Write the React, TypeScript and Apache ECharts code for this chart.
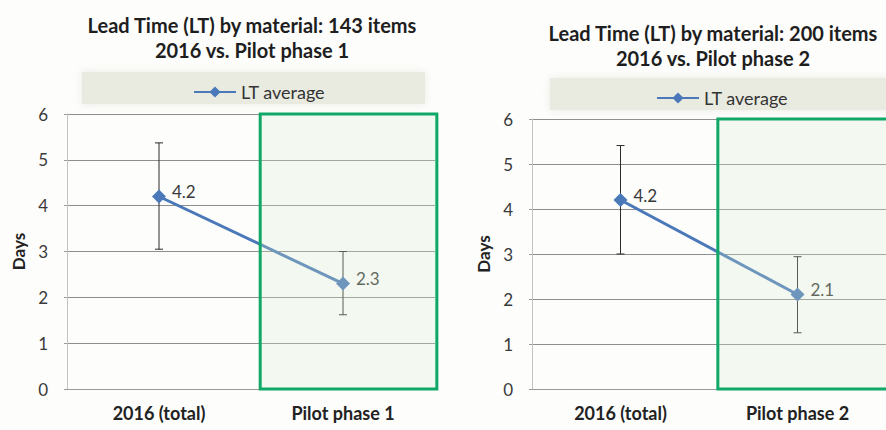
import React, { useEffect, useRef } from "react";
import * as echarts from "echarts";

const categoriesA = ["2016 (total)", "Pilot phase 1"];
const categoriesB = ["2016 (total)", "Pilot phase 2"];
const ltAverageA = [4.2, 2.3];
const ltAverageB = [4.2, 2.1];
const errLowA = [3.05, 1.62];
const errHighA = [5.37, 3.0];
const errLowB = [3.0, 1.25];
const errHighB = [5.41, 2.94];
const titleA = ["Lead Time (LT) by material: 143 items", "2016 vs. Pilot phase 1"];
const titleB = ["Lead Time (LT) by material: 200 items", "2016 vs. Pilot phase 2"];
const seriesName = "LT average";
const highlightIndex = 1;
const yMin = 0;
const yMax = 6;
const yInterval = 1;

const FONT = "Lato, 'Open Sans', sans-serif";
const BLUE = "#4a78b8";
const GREEN = "#0fa866";

function errorBarSeries(gridIdx: number, low: number[], high: number[]) {
  return {
    type: "custom",
    xAxisIndex: gridIdx,
    yAxisIndex: gridIdx,
    z: 3,
    silent: true,
    data: low.map((l, i) => [i, l, high[i]]),
    renderItem: (params: any, api: any) => {
      const x = api.value(0);
      const lo = api.coord([x, api.value(1)]);
      const hi = api.coord([x, api.value(2)]);
      const cap = 4;
      const style = { stroke: "#2a2a2a", lineWidth: 1 };
      return {
        type: "group",
        children: [
          { type: "line", shape: { x1: lo[0], y1: lo[1], x2: hi[0], y2: hi[1] }, style },
          { type: "line", shape: { x1: lo[0] - cap, y1: lo[1], x2: lo[0] + cap, y2: lo[1] }, style },
          { type: "line", shape: { x1: hi[0] - cap, y1: hi[1], x2: hi[0] + cap, y2: hi[1] }, style },
        ],
      };
    },
  };
}

function highlightSeries(gridIdx: number) {
  return {
    type: "custom",
    xAxisIndex: gridIdx,
    yAxisIndex: gridIdx,
    z: 6,
    silent: true,
    clip: false,
    data: [[highlightIndex]],
    renderItem: (params: any, api: any) => {
      const top = api.coord([api.value(0), yMax]);
      const bottom = api.coord([api.value(0), yMin]);
      const bw = api.size([1, 0])[0];
      const x = top[0] - bw * 0.45;
      return {
        type: "rect",
        shape: { x, y: top[1], width: bw * 0.96, height: bottom[1] - top[1] },
        style: { fill: "rgba(218,236,204,0.26)", stroke: GREEN, lineWidth: 3 },
      };
    },
  };
}

function lineSeries(gridIdx: number, data: number[]) {
  return {
    name: seriesName,
    type: "line",
    xAxisIndex: gridIdx,
    yAxisIndex: gridIdx,
    z: 4,
    data,
    symbol: "diamond",
    symbolSize: 14,
    itemStyle: { color: BLUE },
    lineStyle: { color: BLUE, width: 3 },
    label: {
      show: true,
      position: "right",
      offset: [1, -5],
      color: "#3a3a3a",
      fontSize: 17,
      fontFamily: FONT,
    },
  };
}

function xAxis(gridIdx: number, cats: string[]) {
  return {
    type: "category",
    gridIndex: gridIdx,
    data: cats,
    boundaryGap: true,
    axisLine: { lineStyle: { color: "#9a9a9a" } },
    axisTick: { show: false },
    axisLabel: { color: "#222", fontSize: 18, fontWeight: "bold", fontFamily: FONT, margin: 15 },
  };
}

function yAxis(gridIdx: number) {
  return {
    type: "value",
    gridIndex: gridIdx,
    min: yMin,
    max: yMax,
    interval: yInterval,
    name: "Days",
    nameLocation: "middle",
    nameGap: 40,
    nameTextStyle: { color: "#222", fontSize: 17, fontWeight: "bold", fontFamily: FONT },
    axisLine: { show: true, lineStyle: { color: "#c4c4c4" } },
    axisTick: { show: true, length: 3, lineStyle: { color: "#9a9a9a" } },
    axisLabel: { color: "#3a3a3a", fontSize: 17, fontFamily: FONT, margin: 19 },
    splitLine: { lineStyle: { color: "#8e8e8e", width: 1 } },
  };
}

function titleTexts(cx: number, y: number, lines: string[]) {
  return lines.map((t, i) => ({
    type: "text",
    x: cx,
    y: y + i * 25,
    style: {
      text: t,
      textAlign: "center",
      textVerticalAlign: "middle",
      fill: "#1e1e1e",
      font: `bold 20px ${FONT}`,
    },
  }));
}

export default function App() {
  const ref = useRef<HTMLDivElement>(null);
  useEffect(() => {
    if (!ref.current) return;
    const chart = echarts.init(ref.current, null, { renderer: "svg" });
    chart.setOption({
      animation: false,
      backgroundColor: "#fdfdfc",
      grid: [
        { left: 67, top: 114, width: 368, height: 275 },
        { left: 532, top: 119, width: 364, height: 270 },
      ],
      legend: [
        {
          data: [seriesName],
          left: 188,
          top: 78,
          itemWidth: 42,
          itemHeight: 14,
          itemGap: 3,
          textStyle: { color: "#333", fontSize: 18, fontFamily: FONT },
        },
        {
          data: [seriesName],
          left: 651,
          top: 84,
          itemWidth: 42,
          itemHeight: 14,
          itemGap: 3,
          textStyle: { color: "#333", fontSize: 18, fontFamily: FONT },
        },
      ],
      graphic: [
        {
          type: "rect",
          z: -1,
          shape: { x: 82, y: 72, width: 343, height: 32 },
          style: { fill: "#e9ebe1", shadowBlur: 8, shadowColor: "#e9ebe1" },
        },
        {
          type: "rect",
          z: -1,
          shape: { x: 550, y: 78, width: 340, height: 32 },
          style: { fill: "#e9ebe1", shadowBlur: 8, shadowColor: "#e9ebe1" },
        },
        ...titleTexts(252, 25, titleA),
        ...titleTexts(713, 33, titleB),
      ],
      xAxis: [xAxis(0, categoriesA), xAxis(1, categoriesB)],
      yAxis: [yAxis(0), yAxis(1)],
      series: [
        lineSeries(0, ltAverageA),
        lineSeries(1, ltAverageB),
        errorBarSeries(0, errLowA, errHighA),
        errorBarSeries(1, errLowB, errHighB),
        highlightSeries(0),
        highlightSeries(1),
      ],
    });
    return () => chart.dispose();
  }, []);
  return (
    <div
      ref={ref}
      style={{ position: "fixed", left: 0, top: 0, width: 886, height: 430 }}
    />
  );
}
